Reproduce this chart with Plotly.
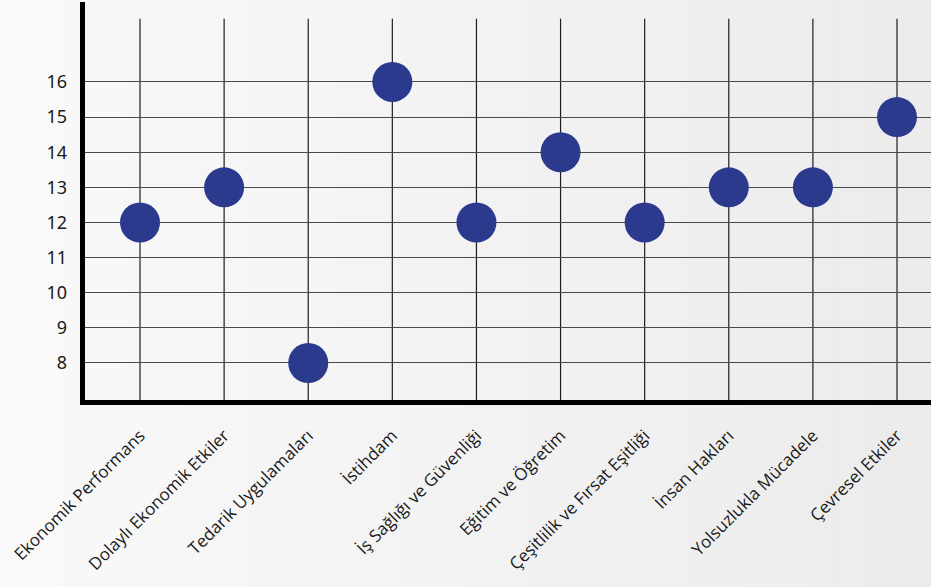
import plotly.graph_objects as go

categories = ["Ekonomik Performans", "Dolaylı Ekonomik Etkiler", "Tedarik Uygulamaları",
              "İstihdam", "İş Sağlığı ve Güvenliği", "Eğitim ve Öğretim",
              "Çeşitlilik ve Fırsat Eşitliği", "İnsan Hakları", "Yolsuzlukla Mücadele",
              "Çevresel Etkiler"]
values = [12, 13, 8, 16, 12, 14, 12, 13, 13, 15]
y_ticks = [8, 9, 10, 11, 12, 13, 14, 15, 16]

W, H = 931, 587
L, B = 80, 182
plot_w, plot_h = W - L, H - B

fig = go.Figure()
fig.add_trace(go.Scatter(
    x=list(range(len(categories))), y=values, mode="markers",
    marker=dict(size=40, color="#2b3a8d", line=dict(width=0)),
    hoverinfo="x+y", cliponaxis=False,
))

shapes = []
# background gradient strips
n = 30
for i in range(n):
    t = i / (n - 1)
    c = int(round(249 - t * (249 - 236)))
    shapes.append(dict(type="rect", xref="paper", yref="paper",
                       x0=-L / plot_w + i * (W / plot_w) / n,
                       x1=-L / plot_w + (i + 1) * (W / plot_w) / n + 0.002,
                       y0=-B / plot_h, y1=1.0,
                       fillcolor=f"rgb({c},{c},{c})", line=dict(width=0), layer="below"))
# vertical gridlines per category
for i in range(len(categories)):
    shapes.append(dict(type="line", xref="x", yref="y", x0=i, x1=i, y0=6.8, y1=17.8,
                       line=dict(color="#1e1e1e", width=1.2), layer="below"))
# axis lines
shapes.append(dict(type="line", xref="paper", yref="paper",
                   x0=2.5 / plot_w, x1=2.5 / plot_w, y0=0, y1=(plot_h - 2) / plot_h,
                   line=dict(color="#000000", width=5)))
shapes.append(dict(type="line", xref="paper", yref="paper",
                   x0=0, x1=1, y0=2.5 / plot_h, y1=2.5 / plot_h,
                   line=dict(color="#000000", width=5)))

fig.update_layout(
    width=W, height=H,
    margin=dict(l=L, r=0, t=0, b=B),
    paper_bgcolor="#f3f3f3", plot_bgcolor="rgba(0,0,0,0)",
    showlegend=False,
    shapes=shapes,
    xaxis=dict(range=[-60 / 84.1, 9 + 34 / 84.1],
               tickmode="array", tickvals=list(range(len(categories))), ticktext=categories,
               tickangle=-45, showgrid=False, zeroline=False, showline=False,
               tickfont=dict(family="Open Sans", size=17, color="#1a1a1a"),
               ticks="outside", ticklen=13, tickcolor="rgba(0,0,0,0)"),
    yaxis=dict(range=[6.804, 18.334], tickmode="array", tickvals=y_ticks,
               ticktext=[str(v) for v in y_ticks],
               showgrid=True, gridcolor="#4a4a4a", gridwidth=1.3, zeroline=False, showline=False,
               tickfont=dict(family="Noto Sans", size=18, color="#1a1a1a"),
               ticks="", ticklabelstandoff=12),
)
fig.write_html("out.html", config={"displayModeBar": False},
               post_script="document.body.style.margin='0';document.body.style.overflow='hidden';")
